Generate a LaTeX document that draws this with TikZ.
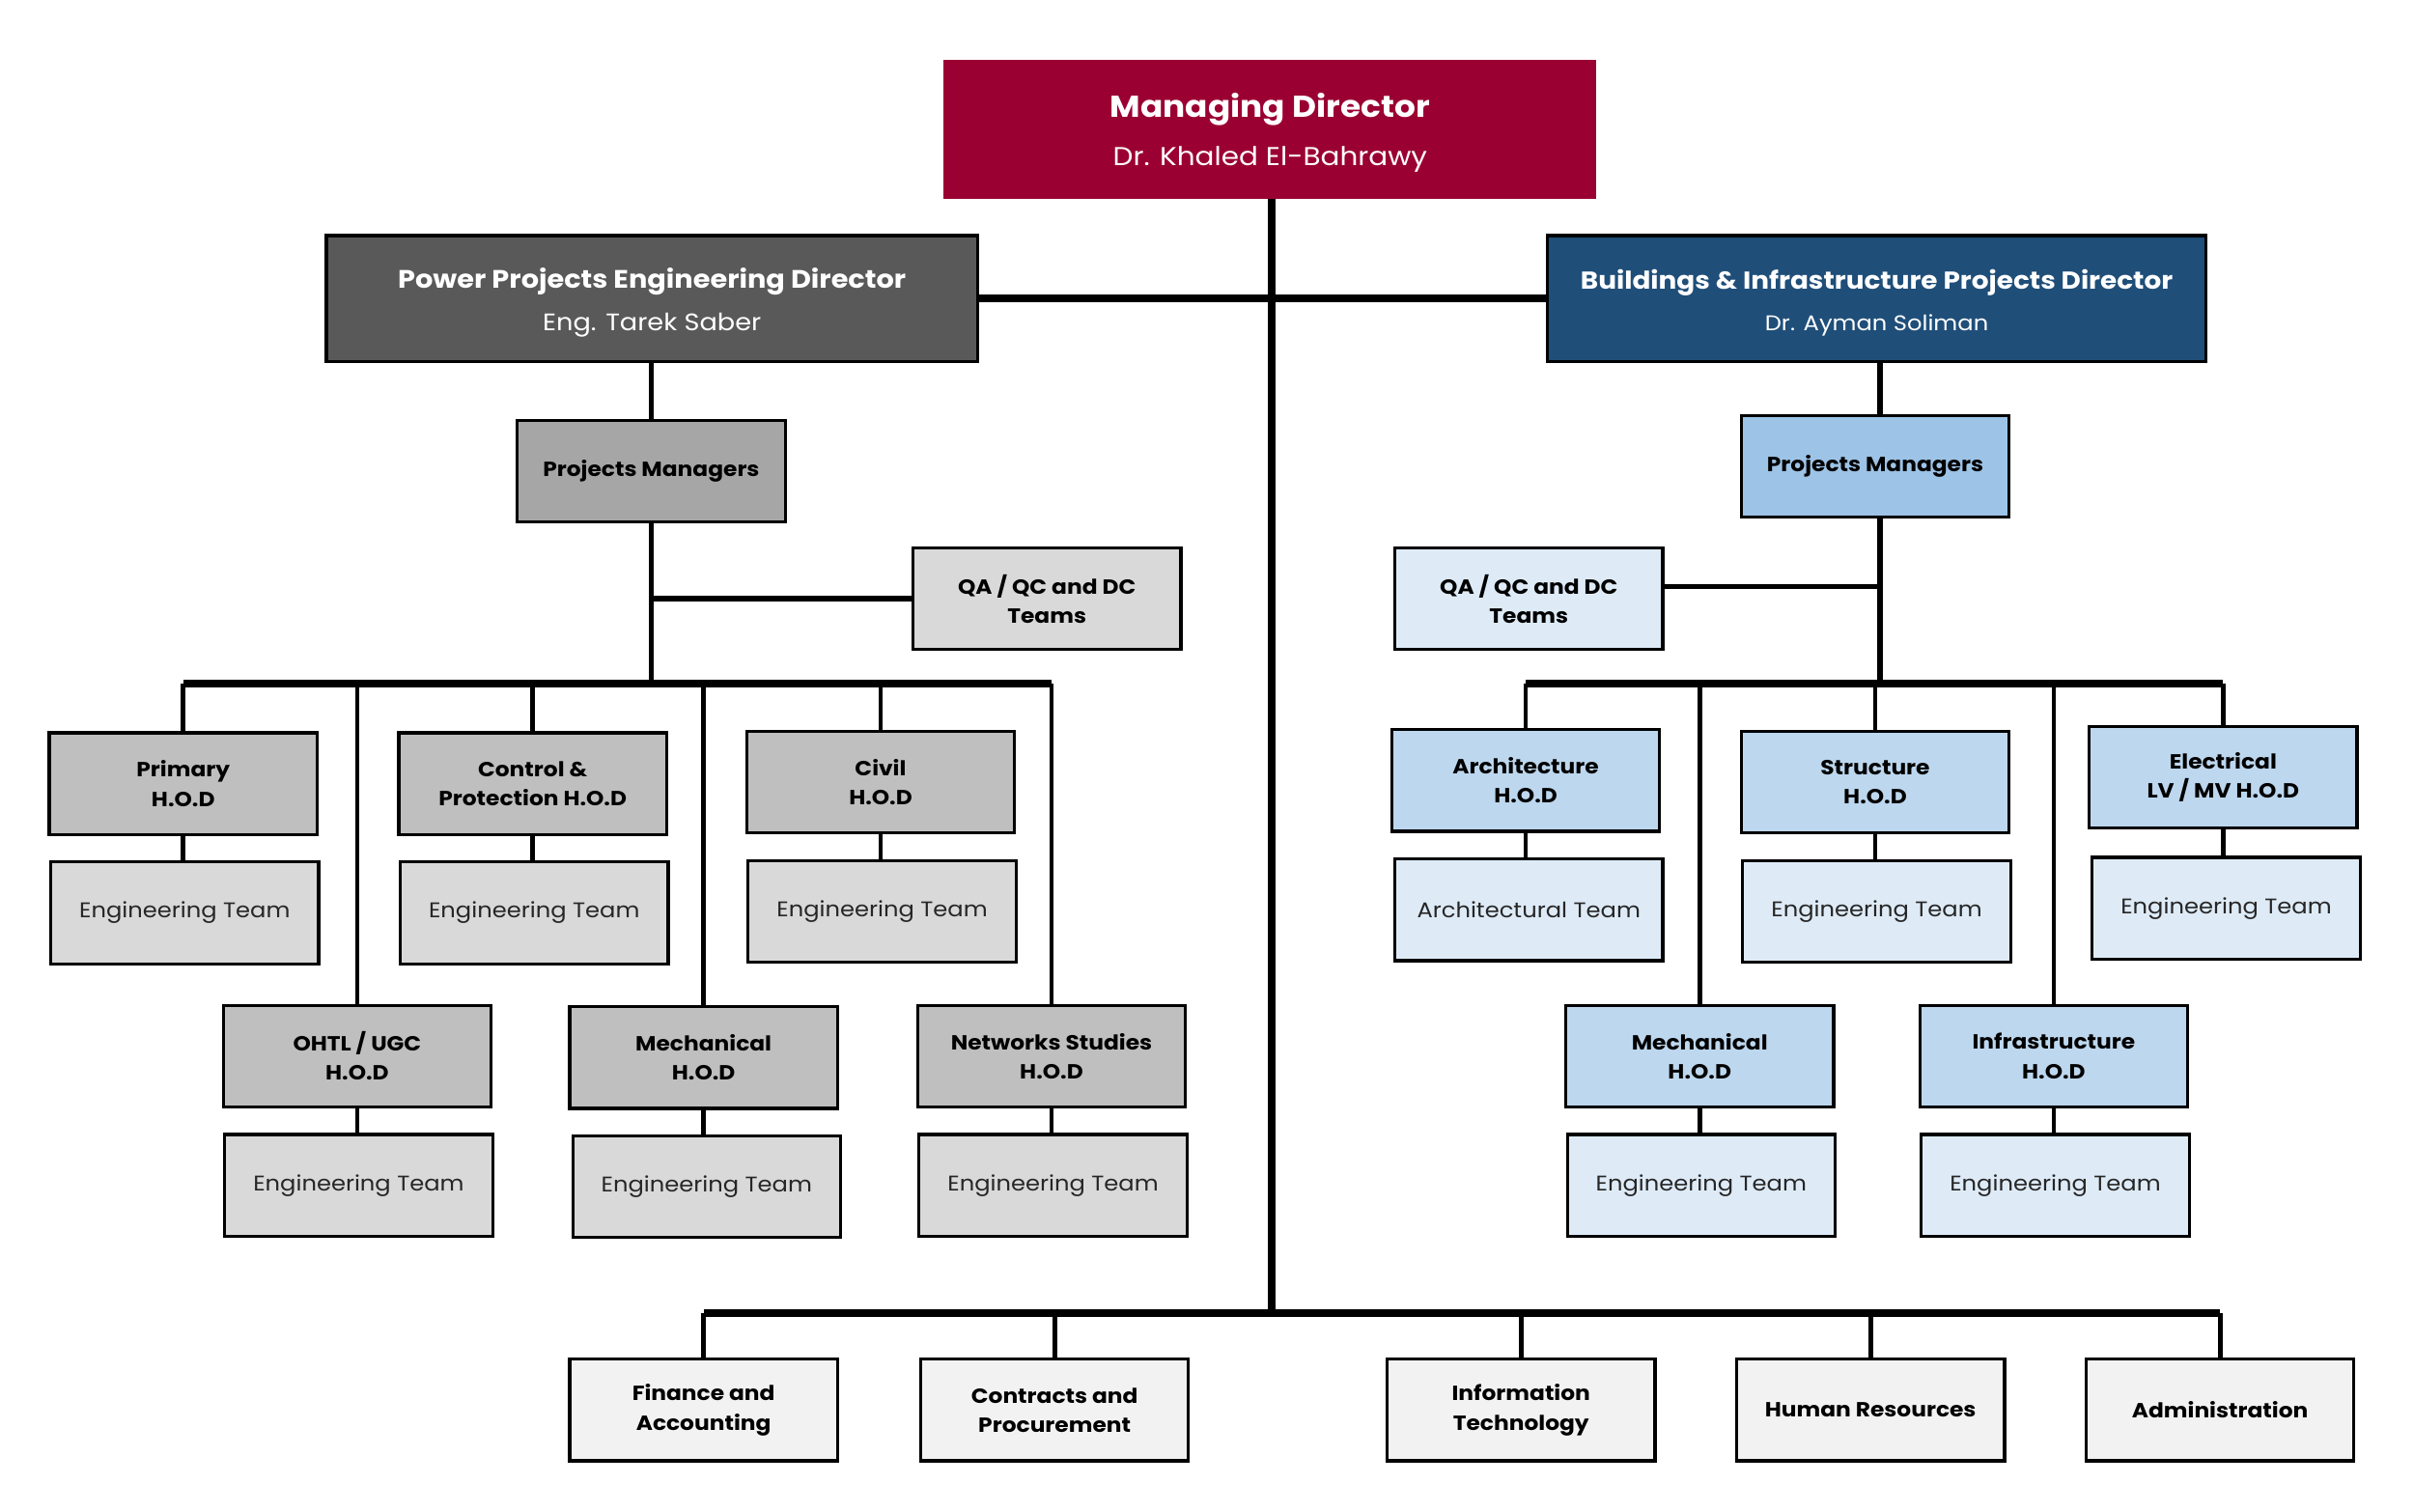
\documentclass[tikz,border=0pt]{standalone}
\usepackage{fontspec}
\setmainfont{Poppins}[FakeStretch=1.1]
\definecolor{mdred}{RGB}{155,0,51}
\definecolor{dgray}{RGB}{89,89,89}
\definecolor{dblue}{RGB}{31,78,121}
\definecolor{gpm}{RGB}{166,166,166}
\definecolor{ghod}{RGB}{191,191,191}
\definecolor{gteam}{RGB}{217,217,217}
\definecolor{bpm}{RGB}{157,195,230}
\definecolor{bhod}{RGB}{189,215,238}
\definecolor{bteam}{RGB}{222,235,247}
\definecolor{gsupp}{RGB}{242,242,242}
\begin{document}
\begin{tikzpicture}[x=1pt,y=-1pt,
  box/.style={draw=black,line width=2pt,minimum width=174pt,minimum height=66pt,
    align=center,inner sep=0pt,text=black},
  boldtxt/.style={font=\fontsize{13.3}{19}\selectfont\bfseries},
  regtxt/.style={font=\fontsize{13.8}{19}\selectfont,text=black!85},
  pmL/.style={box,boldtxt,fill=gpm},
  hodL/.style={box,boldtxt,fill=ghod},
  teamL/.style={box,regtxt,fill=gteam},
  qaL/.style={box,boldtxt,fill=gteam},
  pmR/.style={box,boldtxt,fill=bpm},
  hodR/.style={box,boldtxt,fill=bhod},
  teamR/.style={box,regtxt,fill=bteam},
  qaR/.style={box,boldtxt,fill=bteam},
  supp/.style={box,boldtxt,fill=gsupp},
  topbox/.style={draw=black,line width=2pt,align=center,inner sep=0pt,text=white,
    minimum width=423pt,minimum height=82pt},
  trunk/.style={line width=5pt},
  busline/.style={line width=5pt},
  drop/.style={line width=3pt},
  link/.style={line width=3.5pt}]
\useasboundingbox (0,0) rectangle (1568,981.6);
% top level
\node[topbox,fill=mdred,draw=mdred,minimum width=422pt,minimum height=88pt,
  font=\fontsize{19.6}{31}\selectfont] (md) at (825,84)
  {{\rule{0pt}{20pt}\bfseries Managing Director}\\
   {\fontsize{16.8}{31}\selectfont Dr. Khaled El-Bahrawy}};
\node[topbox,fill=dgray,font=\fontsize{16.4}{28}\selectfont] (pd) at (423.5,194)
  {{\rule{0pt}{18pt}\bfseries Power Projects Engineering Director}\\
   {\fontsize{15.5}{28}\selectfont Eng. Tarek Saber}};
\node[topbox,fill=dblue,minimum width=428pt,font=\fontsize{15.9}{27}\selectfont] (bd) at (1219,194)
  {{\rule{0pt}{18pt}\bfseries Buildings \& Infrastructure Projects Director}\\
   {\fontsize{13.8}{27}\selectfont Dr. Ayman Soliman}};
% bus coordinates
\coordinate (lbus) at (423,444);
\coordinate (rbus) at (1221,444);
\coordinate (bbus) at (826,853);
% left branch
\node[pmL] (pml) at (423,306) {Projects Managers};
\node[qaL] (qal) at (680,389) {QA / QC and DC\\Teams};
\node[hodL] (prim) at (119,509) {Primary\\H.O.D};
\node[teamL] (primt) at (120,593) {Engineering Team};
\node[hodL] (ctrl) at (346,509) {Control \&\\Protection H.O.D};
\node[teamL] (ctrlt) at (347,593) {Engineering Team};
\node[hodL] (civ) at (572,508) {Civil\\H.O.D};
\node[teamL] (civt) at (573,592) {Engineering Team};
\node[hodL] (ohtl) at (232,686) {OHTL / UGC\\H.O.D};
\node[teamL] (ohtlt) at (233,770) {Engineering Team};
\node[hodL] (mechl) at (457,687) {Mechanical\\H.O.D};
\node[teamL] (mechlt) at (459,771) {Engineering Team};
\node[hodL] (netw) at (683,686) {Networks Studies\\H.O.D};
\node[teamL] (netwt) at (684,770) {Engineering Team};
% right branch
\node[pmR] (pmr) at (1218,303) {Projects Managers};
\node[qaR] (qar) at (993,389) {QA / QC and DC\\Teams};
\node[hodR] (arch) at (991,507) {Architecture\\H.O.D};
\node[teamR] (archt) at (993,591) {Architectural Team};
\node[hodR] (strc) at (1218,508) {Structure\\H.O.D};
\node[teamR] (strct) at (1219,592) {Engineering Team};
\node[hodR] (elec) at (1444,505) {Electrical\\LV / MV H.O.D};
\node[teamR] (elect) at (1446,590) {Engineering Team};
\node[hodR] (mechr) at (1104,686) {Mechanical\\H.O.D};
\node[teamR] (mechrt) at (1105,770) {Engineering Team};
\node[hodR] (infr) at (1334,686) {Infrastructure\\H.O.D};
\node[teamR] (infrt) at (1335,770) {Engineering Team};
% support functions
\node[supp] (fin) at (457,916) {Finance and\\Accounting};
\node[supp] (cont) at (685,916) {Contracts and\\Procurement};
\node[supp] (it) at (988,916) {Information\\Technology};
\node[supp] (hr) at (1215,916) {Human Resources};
\node[supp] (adm) at (1442,916) {Administration};
% connectors: top
\draw[trunk] (md.south -| bbus) -- (bbus);
\draw[busline] (pd.east) -- (bd.west);
% left
\draw[link] (pd.south -| pml) -- (pml.north);
\draw[link] (pml.south) -- (lbus);
\draw[link] (pml.south |- qal.west) -- (qal.west);
\draw[busline] (prim.north |- lbus) -- (netw.north |- lbus);
\foreach \h/\t in {prim/primt,ctrl/ctrlt,civ/civt}{
  \draw[drop] (\h.north |- lbus) -- (\h.north);
  \draw[drop] (\h.south) -- (\t.north -| \h.south);
}
\foreach \h/\t in {ohtl/ohtlt,mechl/mechlt,netw/netwt}{
  \draw[drop] (\h.north |- lbus) -- (\h.north);
  \draw[drop] (\h.south) -- (\t.north -| \h.south);
}
% right
\draw[link] (bd.south -| rbus) -- (rbus |- pmr.north);
\draw[link] (pmr.south -| rbus) -- (rbus);
\draw[link] ([yshift=8pt]qar.east) -- ([yshift=8pt]qar.east -| rbus);
\draw[busline] (arch.north |- rbus) -- (elec.north |- rbus);
\foreach \h/\t in {arch/archt,strc/strct,elec/elect,mechr/mechrt,infr/infrt}{
  \draw[drop] (\h.north |- rbus) -- (\h.north);
  \draw[drop] (\h.south) -- (\t.north -| \h.south);
}
% bottom
\draw[busline] (fin.north |- bbus) -- (adm.north |- bbus);
\foreach \s in {fin,cont,it,hr,adm}{
  \draw[drop] (\s.north |- bbus) -- (\s.north);
}
\end{tikzpicture}
\end{document}
